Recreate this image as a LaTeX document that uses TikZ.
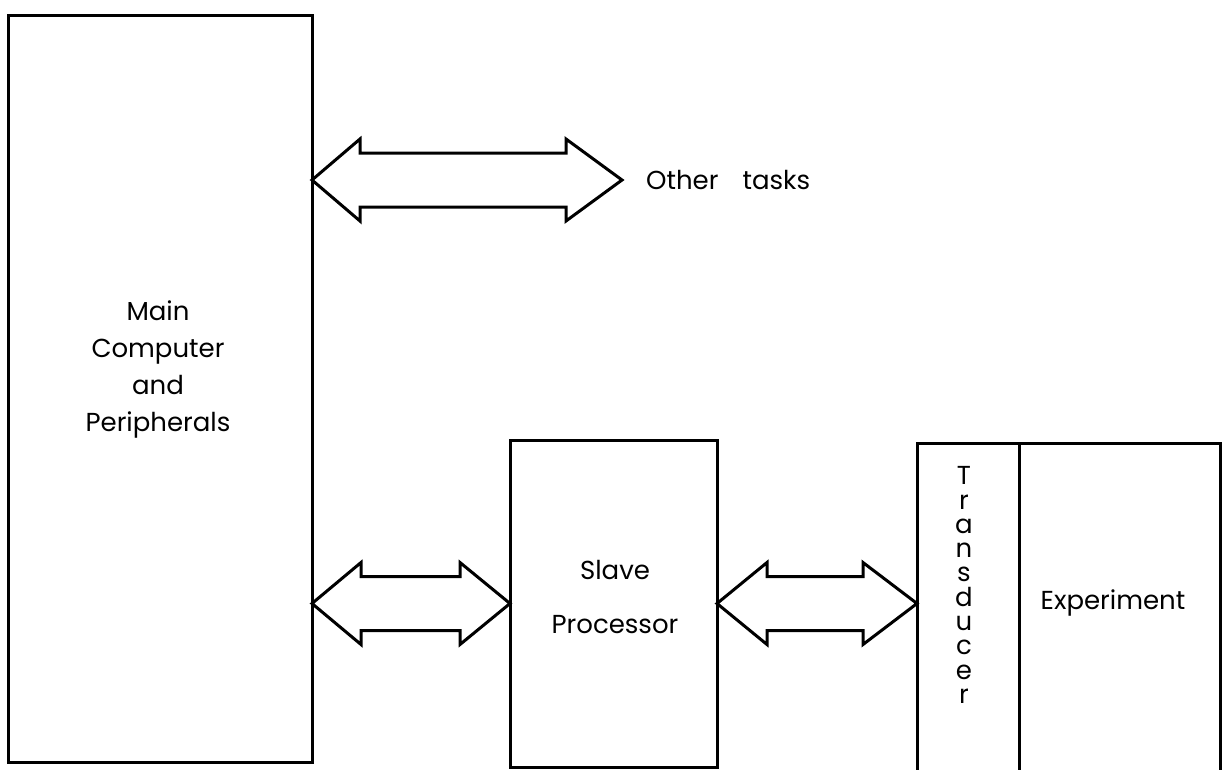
\documentclass[tikz,border=0pt]{standalone}
\usepackage{fontspec}
\newfontfamily\lett{Poppins}
\usetikzlibrary{calc}
\tikzset{
  box/.style={draw, line width=3pt, inner sep=0pt, outer sep=0pt},
  fat/.style={draw, line width=3pt, fill=white},
  lbl/.style={font=\lett\fontsize{26}{37}\selectfont, align=center, inner sep=0pt},
  slbl/.style={font=\lett\fontsize{26}{54}\selectfont, align=center, inner sep=0pt},
  tlbl/.style={font=\lett\fontsize{26}{24.3}\selectfont, align=center, inner sep=0pt}
}
\newcommand\fatarrow[4]{%
  \draw[fat] let \p1=(#1), \p2=(#2) in
    (\p1) -- (\x1+#3,\y1+41pt) -- (\x1+#3,\y1+27pt) -- (\x2-#4,\y2+27pt)
    -- (\x2-#4,\y2+41pt) -- (\p2) -- (\x2-#4,\y2-41pt) -- (\x2-#4,\y2-27pt)
    -- (\x1+#3,\y1-27pt) -- (\x1+#3,\y1-41pt) -- cycle;}
\begin{document}
\begin{tikzpicture}[x=1pt,y=-1pt]
\useasboundingbox (0,0) rectangle (1227,769);
\clip (0,0) rectangle (1227,769);
% boxes
\node[box, minimum width=304pt, minimum height=747pt] (main) at (160,388.5) {};
\node[lbl] (maintxt) at (158,369) {Main\\Computer\\and\\Peripherals};
\node[box, minimum width=207pt, minimum height=327pt] (slave) at (613.5,603.5) {};
\node[slbl] (slavetxt) at (615,597) {Slave\\Processor};
\node[box, minimum width=102pt, minimum height=360pt] (trans) at (968,623) {};
\node[box, minimum width=201pt, minimum height=360pt, anchor=west] (expt) at (trans.east) {};
\node[tlbl] (transtxt) at (964,585) {T\\r\\a\\n\\s\\d\\u\\c\\e\\r};
\node[lbl] (expttxt) at (1113,603) {Experiment};
% other tasks
\coordinate (ot) at (622,180);
\node[lbl, anchor=west] (other) at (646,180) {Other\hspace{24pt}tasks};
% arrows
\fatarrow{main.east |- ot}{ot}{48pt}{56pt}
\fatarrow{main.east |- slave.west}{slave.west}{49pt}{50pt}
\fatarrow{slave.east}{trans.west |- slave.east}{50pt}{54pt}
\end{tikzpicture}
\end{document}
